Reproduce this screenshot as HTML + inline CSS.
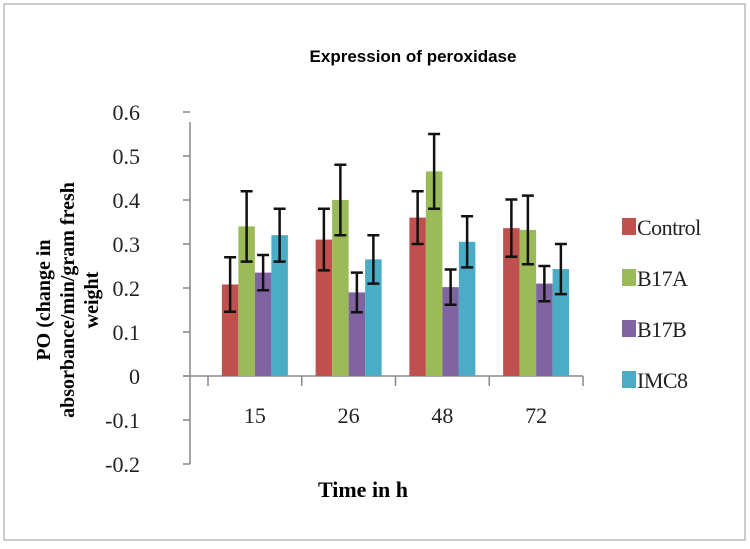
<!DOCTYPE html>
<html><head><meta charset="utf-8"><style>
body{margin:0;background:#fff;}
svg{display:block;}
</style></head><body>
<svg width="750" height="549" viewBox="0 0 750 549">
<rect x="4" y="4" width="741" height="536" fill="#fff" stroke="#bbb" stroke-width="1.5"/>
<text x="413" y="62" text-anchor="middle" font-family="Liberation Sans, sans-serif" font-weight="bold" font-size="17">Expression of peroxidase</text>
<g font-family="Liberation Serif, serif" font-weight="bold" font-size="20">
<text transform="translate(50,300) rotate(-90)" text-anchor="middle">PO (change in</text>
<text transform="translate(74,300) rotate(-90)" text-anchor="middle">absorbance/min/gram fresh</text>
<text transform="translate(98,300) rotate(-90)" text-anchor="middle">weight</text>
</g>
<text x="363" y="497" text-anchor="middle" font-family="Liberation Serif, serif" font-weight="bold" font-size="22">Time in h</text>
<g id="plot"></g>
</svg>
<script>
const categories=["15","26","48","72"];
const seriesNames=["Control","B17A","B17B","IMC8"];
const control=[0.208,0.31,0.36,0.336];
const b17a=[0.34,0.40,0.465,0.332];
const b17b=[0.235,0.19,0.202,0.21];
const imc8=[0.32,0.265,0.305,0.243];
const controlErr=[0.062,0.07,0.06,0.065];
const b17aErr=[0.08,0.08,0.085,0.078];
const b17bErr=[0.04,0.045,0.04,0.04];
const imc8Err=[0.06,0.055,0.058,0.057];
const yTicks=[-0.2,-0.1,0,0.1,0.2,0.3,0.4,0.5,0.6];
const colors=["#c0504d","#9bbb59","#8064a2","#4bacc6"];
const NS="http://www.w3.org/2000/svg";
const g=document.getElementById('plot');
const y0=376, pxPer=440, xAxisY=190, xL=208, xR=583;
function yScale(v){return y0-v*pxPer;}
const catW=(xR-xL)/categories.length;
function xCat(i){return xL+catW*(i+0.5);}
function mk(t,a){const e=document.createElementNS(NS,t);for(const k in a)e.setAttribute(k,a[k]);g.appendChild(e);return e;}
let ax=mk('line',{x1:xAxisY,y1:yScale(0.6)+10,x2:xAxisY,y2:yScale(-0.2),stroke:'#888','stroke-width':1.5});


yTicks.forEach(t=>{
 const tk=mk('line',{x1:xAxisY-7,x2:xAxisY,y1:yScale(t),y2:yScale(t),stroke:'#888','stroke-width':1.5});
 
 
 const tx=mk('text',{x:140,y:yScale(t)+8,'text-anchor':'end','font-family':'Liberation Serif, serif','font-size':22,fill:'#222'});
 tx.textContent=(Math.round(t*10)/10).toString();
 
 
});
let xa=mk('line',{x1:xAxisY-7,x2:xR,y1:y0,y2:y0,stroke:'#888','stroke-width':1.5});


for(let i=0;i<=categories.length;i++){
 const tk=mk('line',{x1:xL+catW*i,x2:xL+catW*i,y1:y0,y2:y0+10,stroke:'#888','stroke-width':1.5});
 
 
}
categories.forEach((c,i)=>{
 const tx=mk('text',{x:xCat(i),y:y0+47,'text-anchor':'middle','font-family':'Liberation Serif, serif','font-size':22,fill:'#222'});
 tx.textContent=c;
 
 
});
const vals=[control,b17a,b17b,imc8];
const errs=[controlErr,b17aErr,b17bErr,imc8Err];
const bw=16.5;
vals.forEach((s,si)=>{
 s.forEach((v,i)=>{
  const x=xCat(i)-2*bw+si*bw;
  const r=mk('rect',{x:x,y:yScale(v),width:bw,height:y0-yScale(v),fill:colors[si]});
  
  
  const e=errs[si][i], cx=x+bw/2;
  const eb=mk('path',{d:`M${cx-6},${yScale(v+e)}H${cx+6}M${cx},${yScale(v+e)}V${yScale(v-e)}M${cx-6},${yScale(v-e)}H${cx+6}`,stroke:'#111','stroke-width':2.5,fill:'none'});
  
  
 });
});
seriesNames.forEach((n,i)=>{
 const yy=227+i*51;
 const r=mk('rect',{x:622,y:yy-9,width:14,height:17,fill:colors[i]});
 
 
 const t=mk('text',{x:637,y:yy+8,'font-family':'Liberation Serif, serif','font-size':22,fill:'#222','letter-spacing':'-0.5'});
 t.textContent=n;
 
 
});
</script>
</body></html>
